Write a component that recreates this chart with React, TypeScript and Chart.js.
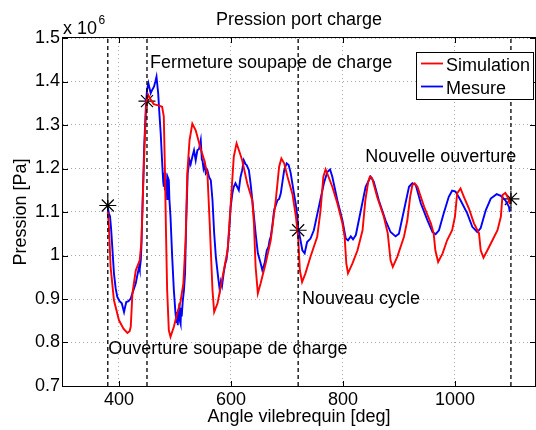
import React, { useEffect, useRef } from "react";
import { Chart, registerables } from "chart.js";

Chart.register(...registerables);

const FONT = "'Liberation Sans', Arial, Helvetica, sans-serif";

// Simulation (red)
const simAngle = [
  380, 382, 385, 391, 400, 408, 415, 419, 421, 424, 430, 437, 440, 442, 446, 449, 452, 456, 462, 470,
  477, 480, 482, 484, 486, 489, 492, 498, 504, 510, 515, 519, 522, 526, 531, 537, 546, 552, 558, 562,
  567, 570, 576, 585, 594, 600, 605, 610, 616, 620, 629, 638, 641, 644, 648, 653, 662, 671, 680, 686,
  690, 695, 701, 710, 716, 720, 723, 727, 733, 742, 754, 760, 765, 769, 773, 781, 790, 799, 803, 806,
  809, 817, 826, 835, 840, 845, 848, 852, 861, 873, 880, 885, 889, 897, 909, 915, 920, 924, 928, 933,
  945, 957, 962, 965, 970, 978, 986, 995, 1000, 1004, 1010, 1016, 1025, 1034, 1043, 1046, 1051, 1058,
  1067, 1076, 1082, 1085, 1090, 1095, 1098,
];
const simPressure = [
  1.1, 1.066, 0.974, 0.897, 0.851, 0.832, 0.822, 0.826, 0.836, 0.913, 0.966, 0.989, 1.03, 1.112, 1.265,
  1.355, 1.37, 1.36, 1.348, 1.345, 1.342, 1.32, 1.2, 1.05, 0.921, 0.828, 0.813, 0.836, 0.867, 0.895,
  0.936, 1.035, 1.189, 1.265, 1.303, 1.288, 1.245, 1.22, 1.187, 1.074, 0.92, 0.87, 0.89, 0.951, 1.012,
  1.127, 1.227, 1.258, 1.235, 1.219, 1.166, 1.127, 1.074, 0.974, 0.913, 0.936, 0.982, 1.035, 1.127,
  1.204, 1.223, 1.212, 1.181, 1.14, 1.089, 1.043, 0.966, 0.939, 0.959, 0.997, 1.043, 1.104, 1.181, 1.198,
  1.185, 1.158, 1.12, 1.074, 1.043, 0.982, 0.959, 0.982, 1.012, 1.058, 1.127, 1.169, 1.181, 1.178, 1.135,
  1.089, 1.051, 0.989, 0.974, 0.997, 1.043, 1.081, 1.135, 1.162, 1.166, 1.158, 1.112, 1.074, 1.051,
  1.012, 0.985, 1.005, 1.035, 1.058, 1.089, 1.143, 1.154, 1.135, 1.108, 1.074, 1.051, 1.012, 0.995,
  1.012, 1.035, 1.058, 1.089, 1.139, 1.144, 1.132, 1.118,
];

// Mesure (blue)
const mesAngle = [
  380, 382, 384, 386, 388, 391, 394, 397, 401, 405, 409, 411, 413, 417, 421, 424, 427, 430, 432, 434,
  436, 437, 439, 440, 442, 445, 448, 450, 452.5, 456.6, 459, 462.5, 465, 467, 470, 472, 474.5, 477.5,
  479, 480, 481, 482, 483, 484, 485, 486, 487, 489, 490, 492, 495, 498, 501, 503, 504, 505, 506, 507,
  508, 509, 510, 511, 512, 514, 516, 518, 520, 522.7, 526, 528, 531, 534, 537, 540, 543, 546, 548, 549,
  551, 553, 555, 558, 561, 564, 567, 570, 573, 577, 580, 582, 584, 587, 590, 592, 594.6, 597, 599.5,
  602.5, 605, 608, 611, 614, 617, 620, 623, 626, 628, 632, 635, 640, 644, 648, 653, 656, 660, 664, 667,
  669, 671, 674, 677, 680, 683, 686, 689, 692, 695, 699.5, 703, 706.6, 709.6, 712.5, 715.5, 718.6, 720,
  723, 727.5, 731.6, 736, 742, 748, 757, 766, 772, 777, 781, 790, 799, 805, 809, 814, 818, 823, 832,
  840.5, 849.5, 855, 864, 876, 885, 894, 900, 909, 918, 924, 930, 939, 951, 960, 965.5, 971.5, 980, 989,
  995, 1001, 1010, 1022, 1031, 1040, 1046, 1055, 1064, 1074.5, 1082, 1090, 1096.5, 1098,
];
const mesPressure = [
  1.11, 1.097, 1.09, 1.06, 1.02, 0.959, 0.925, 0.905, 0.895, 0.89, 0.87, 0.882, 0.893, 0.895, 0.901,
  0.913, 0.925, 0.936, 0.95, 0.962, 0.974, 0.968, 0.99, 1.02, 1.112, 1.25, 1.342, 1.38, 1.396, 1.373,
  1.38, 1.388, 1.4, 1.411, 1.373, 1.33, 1.281, 1.204, 1.17, 1.158, 1.19, 1.15, 1.189, 1.14, 1.175, 1.13,
  1.18, 1.173, 1.13, 1.089, 0.997, 0.92, 0.866, 0.845, 0.87, 0.84, 0.875, 0.85, 0.89, 0.848, 0.843, 0.88,
  0.86, 0.897, 0.92, 0.959, 1.074, 1.189, 1.219, 1.21, 1.227, 1.242, 1.219, 1.242, 1.245, 1.265, 1.22,
  1.219, 1.2, 1.21, 1.189, 1.195, 1.18, 1.173, 1.127, 1.051, 0.997, 0.951, 0.92, 0.94, 0.93, 0.96, 0.982,
  0.99, 1.02, 1.06, 1.112, 1.143, 1.158, 1.166, 1.158, 1.15, 1.18, 1.196, 1.219, 1.21, 1.208, 1.196,
  1.166, 1.104, 1.051, 1.005, 0.982, 0.966, 0.982, 1.012, 1.02, 1.035, 1.043, 1.07, 1.104, 1.115, 1.127,
  1.13, 1.143, 1.17, 1.196, 1.212, 1.208, 1.19, 1.166, 1.143, 1.12, 1.089, 1.062, 1.043, 1.012, 1.005,
  1.031, 1.039, 1.058, 1.112, 1.166, 1.192, 1.198, 1.181, 1.127, 1.081, 1.039, 1.035, 1.044, 1.037,
  1.047, 1.104, 1.158, 1.181, 1.17, 1.127, 1.081, 1.054, 1.044, 1.05, 1.104, 1.158, 1.166, 1.162, 1.12,
  1.081, 1.054, 1.049, 1.058, 1.097, 1.135, 1.149, 1.147, 1.127, 1.097, 1.066, 1.054, 1.063, 1.104,
  1.131, 1.141, 1.137, 1.127, 1.112, 1.1,
];

// Events (dashed lines + star markers)
const eventAngles = [380, 450, 720, 1100];
const eventPressure = [1.115, 1.355, 1.058, 1.13];

// Axes
const xMin = 300;
const xMax = 1143;
const yMin = 0.7;
const yMax = 1.5;
const xTicks = [400, 600, 800, 1000];
const yTicks = [0.7, 0.8, 0.9, 1.0, 1.1, 1.2, 1.3, 1.4, 1.5];
const yTickLabels = ["0.7", "0.8", "0.9", "1", "1.1", "1.2", "1.3", "1.4", "1.5"];

const titleText = "Pression port charge";

// Text annotations (anchored in data coordinates)
const noteTexts = [
  "Fermeture soupape de charge",
  "Nouvelle ouverture",
  "Nouveau cycle",
  "Ouverture soupape de charge",
];
const noteAngles = [455.4, 839.9, 726.9, 380.9];
const notePressures = [1.431, 1.214, 0.888, 0.774];

const seriesNames = ["Simulation", "Mesure"];
const seriesColors = ["#ff0000", "#0000ff"];

const overlayPlugin = {
  id: "overlay",
  afterDraw(chart: any) {
    const { ctx, chartArea, scales } = chart;
    const { left, right, top, bottom } = chartArea;
    const xs = scales.x;
    const ys = scales.y;
    ctx.save();
    // box
    ctx.strokeStyle = "#000";
    ctx.lineWidth = 1;
    ctx.setLineDash([]);
    ctx.strokeRect(left - 0.5, top - 0.5, right - left + 1, bottom - top + 1);
    // inward ticks
    const tl = 5;
    ctx.beginPath();
    xTicks.forEach((v) => {
      const px = Math.round(xs.getPixelForValue(v)) + 0.5;
      ctx.moveTo(px, bottom);
      ctx.lineTo(px, bottom - tl);
      ctx.moveTo(px, top);
      ctx.lineTo(px, top + tl);
    });
    yTicks.forEach((v) => {
      const py = Math.round(ys.getPixelForValue(v)) + 0.5;
      ctx.moveTo(left, py);
      ctx.lineTo(left + tl, py);
      ctx.moveTo(right, py);
      ctx.lineTo(right - tl, py);
    });
    ctx.stroke();

    ctx.fillStyle = "#000";
    ctx.textBaseline = "alphabetic";

    // title centred on the plot area
    ctx.font = `18px ${FONT}`;
    ctx.textAlign = "center";
    ctx.fillText(titleText, (left + right) / 2, 25);

    // exponent
    ctx.textAlign = "left";
    ctx.fillText("x 10", left, 34);
    const w = ctx.measureText("x 10").width;
    ctx.font = `12px ${FONT}`;
    ctx.fillText("6", left + w + 1.5, 24);

    // annotations
    ctx.font = `18px ${FONT}`;
    noteTexts.forEach((t, i) => {
      ctx.fillText(t, xs.getPixelForValue(noteAngles[i]), ys.getPixelForValue(notePressures[i]));
    });

    // legend
    const bx = right - 119;
    const by = top + 14;
    const bw = 117;
    const bh = 47;
    ctx.fillStyle = "#fff";
    ctx.fillRect(bx, by, bw, bh);
    ctx.strokeStyle = "#000";
    ctx.lineWidth = 1;
    ctx.strokeRect(bx + 0.5, by + 0.5, bw, bh);
    seriesNames.forEach((name, i) => {
      const ly = by + 11.5 + i * 23;
      ctx.strokeStyle = seriesColors[i];
      ctx.lineWidth = 1.8;
      ctx.beginPath();
      ctx.moveTo(bx + 5, ly);
      ctx.lineTo(bx + 27, ly);
      ctx.stroke();
      ctx.fillStyle = "#000";
      ctx.font = `18px ${FONT}`;
      ctx.fillText(name, bx + 30, ly + 7.5);
    });
    ctx.restore();
  },
};

export default function App() {
  const ref = useRef<HTMLCanvasElement | null>(null);
  useEffect(() => {
    document.body.style.margin = "0";
    const canvas = ref.current;
    if (!canvas) return;

    const toPts = (xa: number[], ya: number[]) => xa.map((x, i) => ({ x, y: ya[i] }));

    const dashed = eventAngles.map((a) => ({
      type: "line" as const,
      data: [
        { x: a, y: yMin },
        { x: a, y: yMax },
      ],
      borderColor: "#000",
      borderWidth: 1.3,
      borderDash: [4, 3],
      pointRadius: 0,
      fill: false,
    }));

    const chart = new Chart(canvas, {
      type: "line",
      data: {
        datasets: [
          ...dashed,
          {
            label: seriesNames[0],
            data: toPts(simAngle, simPressure),
            borderColor: seriesColors[0],
            borderWidth: 1.9,
            pointRadius: 0,
            tension: 0,
            fill: false,
          },
          {
            label: seriesNames[1],
            data: toPts(mesAngle, mesPressure),
            borderColor: seriesColors[1],
            borderWidth: 1.9,
            pointRadius: 0,
            tension: 0,
            fill: false,
          },
          {
            label: "events",
            data: toPts(eventAngles, eventPressure),
            showLine: false,
            pointStyle: "star",
            pointRadius: 8.5,
            borderColor: "#000",
            backgroundColor: "#000",
            pointBorderWidth: 1.2,
            borderWidth: 1.2,
          },
        ] as any,
      },
      options: {
        animation: false,
        responsive: false,
        devicePixelRatio: 1,
        events: [],
        layout: { autoPadding: false, padding: { left: 0, right: 1, top: 38, bottom: 0 } },
        plugins: {
          legend: { display: false },
          tooltip: { enabled: false },
          title: { display: false },
        },
        scales: {
          x: {
            type: "linear",
            min: xMin,
            max: xMax,
            afterBuildTicks: (s: any) => {
              s.ticks = xTicks.map((v) => ({ value: v }));
            },
            afterFit: (s: any) => {
              s.height = 44;
            },
            ticks: {
              color: "#000",
              font: { family: FONT, size: 18 },
              padding: 3,
              maxRotation: 0,
              callback: (v: any) => String(v),
            },
            grid: { color: "#a8a8a8", lineWidth: 1, drawTicks: false },
            border: { display: false, dash: [1, 3] },
            title: {
              display: true,
              text: "Angle vilebrequin [deg]",
              color: "#000",
              font: { family: FONT, size: 18 },
              padding: { top: 0, bottom: 2.2 },
            },
          },
          y: {
            type: "linear",
            min: yMin,
            max: yMax,
            afterBuildTicks: (s: any) => {
              s.ticks = yTicks.map((v) => ({ value: v }));
            },
            afterFit: (s: any) => {
              s.width = 63;
            },
            ticks: {
              color: "#000",
              font: { family: FONT, size: 18 },
              padding: 3,
              callback: (v: any) => {
                const i = yTicks.findIndex((t) => Math.abs(t - Number(v)) < 1e-6);
                return i >= 0 ? yTickLabels[i] : "";
              },
            },
            grid: { color: "#a8a8a8", lineWidth: 1, drawTicks: false },
            border: { display: false, dash: [1, 3] },
            title: {
              display: true,
              text: "Pression [Pa]",
              color: "#000",
              font: { family: FONT, size: 18 },
              padding: { top: 10.7, bottom: 0 },
            },
          },
        },
      } as any,
      plugins: [overlayPlugin],
    });
    return () => chart.destroy();
  }, []);

  return (
    <div style={{ width: 536, height: 430, background: "#fff" }}>
      <canvas ref={ref} width={536} height={430} style={{ display: "block" }} />
    </div>
  );
}
